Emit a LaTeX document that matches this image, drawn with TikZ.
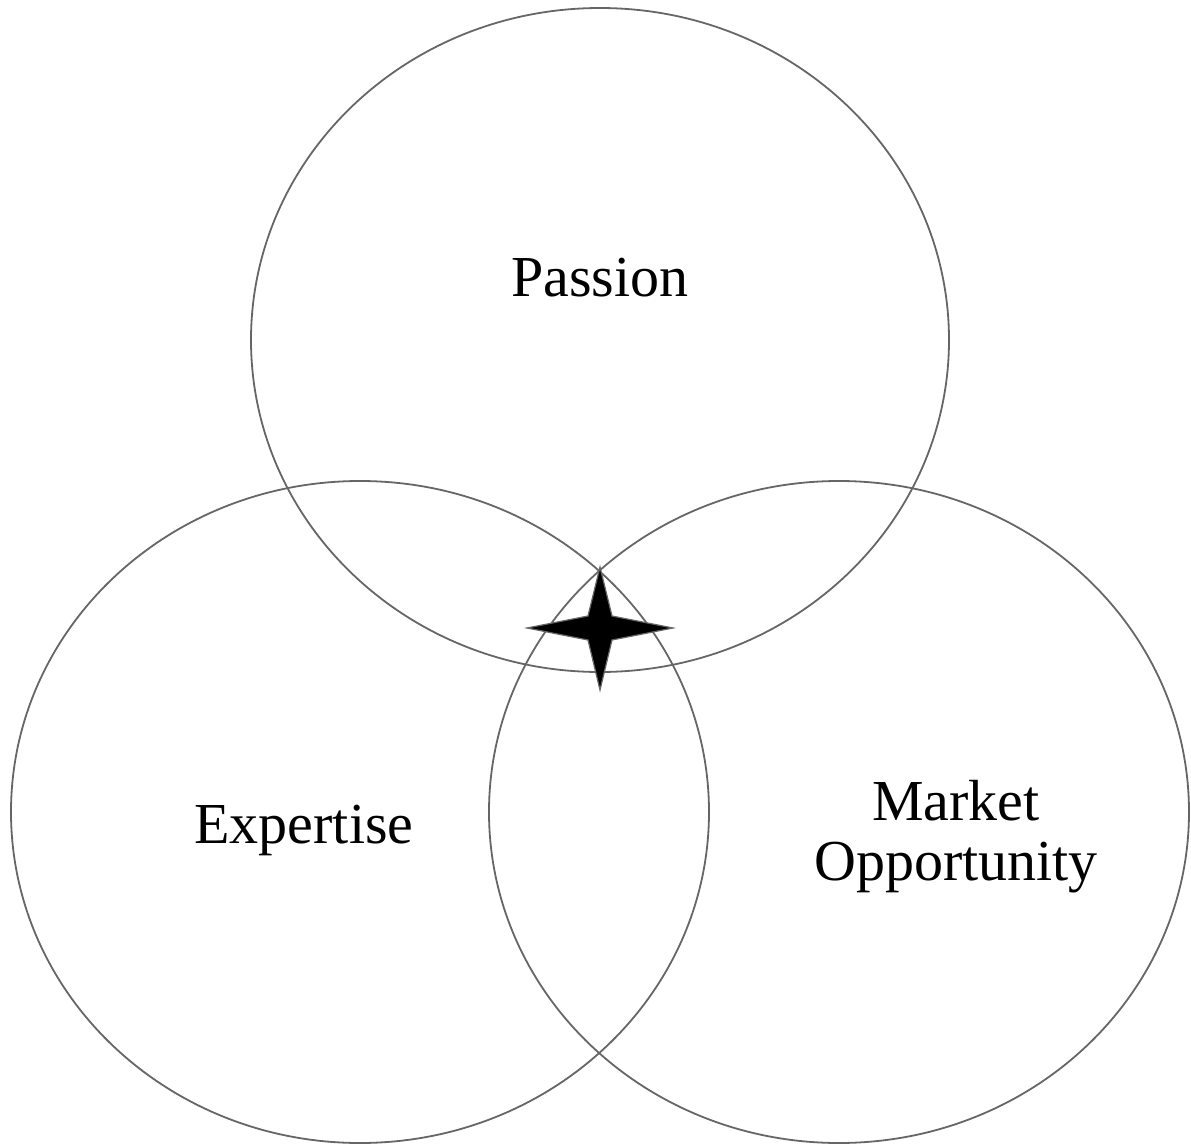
\documentclass[tikz,border=0pt]{standalone}
\usepackage{fontspec}
\setmainfont{Liberation Serif}

\begin{document}
\begin{tikzpicture}[x=0.5pt, y=-0.5pt, ring/.style={draw=black!60, line width=0.9pt}, lbl/.style={font=\fontsize{29}{30}\selectfont, align=center}]
	\useasboundingbox (0,0) rectangle (1191,1146);
	\draw[ring] (600,340) ellipse [x radius=349, y radius=332];
	\draw[ring] (360,812) ellipse [x radius=349, y radius=331];
	\draw[ring] (839,812) ellipse [x radius=350, y radius=331];
	\node[lbl, anchor=base] (passion) at (600,296) {Passion};
	\node[lbl, anchor=base] (expertise) at (304,843) {Expertise};
	\node[lbl, anchor=base] (market) at (956,880) {Market\\Opportunity};
	% four-pointed star where the rings meet
	\draw[fill=black, draw=black!60, line width=0.6pt] (600,567) -- (612,616) -- (673,628) -- (612,640) -- (600,690) -- (588,640) -- (527,628) -- (588,616) -- cycle;
\end{tikzpicture}
\end{document}
